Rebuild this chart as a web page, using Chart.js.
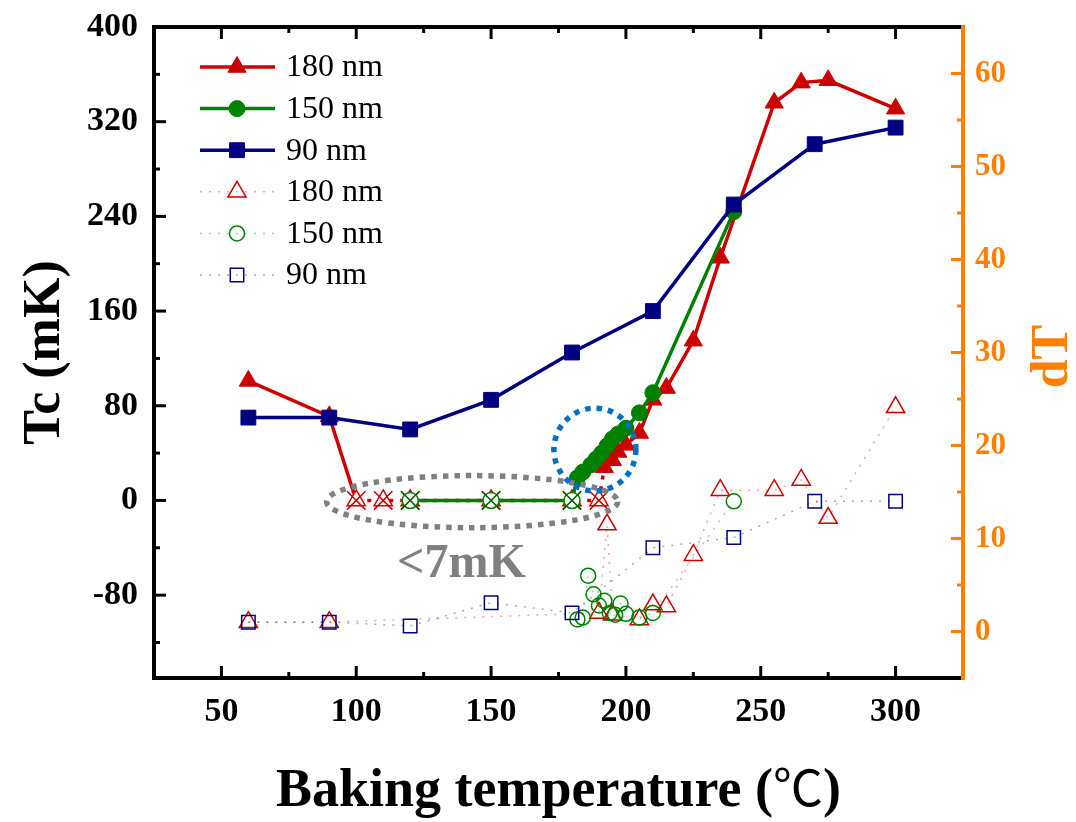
<!DOCTYPE html>
<html>
<head>
<meta charset="utf-8">
<script src="https://cdn.jsdelivr.net/npm/chart.js@4.4.1/dist/chart.umd.min.js"></script>
<style>
    html, body { margin: 0; padding: 0; background: #fff; }
    #wrap { width: 1076px; height: 822px; position: relative; }
</style>
</head>
<body>
<div id="wrap"><canvas id="grafica"></canvas></div>
<script>
// Tc (mK), simbolos llenos -> eje izquierdo
const x180 = [60, 90, 100, 110, 120, 150, 180, 190, 192, 195, 197, 200, 205, 210, 215, 225, 235, 255, 265, 275, 300];
const tc180 = [101, 71, 0, 0, 0, 0, 0, 0, 28, 34, 41, 47, 57, 85, 95, 135, 205, 336, 353, 355, 331];
const x150 = [120, 150, 180, 182, 184, 187, 189, 191, 193, 195, 197, 200, 205, 210, 240];
const tc150 = [0, 0, 0, 19, 24, 30, 35, 40, 46, 52, 56, 61, 74, 91, 244];
const x90 = [60, 90, 120, 150, 180, 210, 240, 270, 300];
const tc90 = [70, 70, 60, 85, 125, 160, 250, 301, 315];

// dT, simbolos huecos -> eje derecho
const xd180 = [60, 90, 190, 193, 195, 205, 210, 215, 225, 235, 255, 265, 275, 300];
const dT180 = [1, 1, 2, 11.5, 1.8, 1.3, 2.9, 2.7, 8.2, 15.2, 15.2, 16.3, 12.2, 24.1];
const xd150 = [182, 184, 186, 188, 190, 192, 194, 196, 198, 200, 205, 210, 240];
const dT150 = [1.3, 1.5, 6, 4, 2.8, 3.3, 2, 1.8, 3, 1.9, 1.5, 2, 14];
const xd90 = [60, 90, 120, 150, 180, 210, 240, 270, 300];
const dT90 = [1, 1, 0.6, 3.1, 2, 9, 10.1, 14, 14];

// ticks
const xTicks = [50, 100, 150, 200, 250, 300];
const tcTicks = [-80, 0, 80, 160, 240, 320, 400];
const dTTicks = [0, 10, 20, 30, 40, 50, 60];

// anotaciones (en unidades de datos)
const elipseGris = { x: 143, y: -1, rx: 54, ry: 22 };
const circuloAzul = { x: 188.5, y: 43, rx: 15.2, ry: 35 };
const textoMenor = { x: 139, y: -54, texto: '<7mK' };

const ROJO = '#CC0000', VERDE = '#008000', AZUL = '#000080', NARANJA = '#FF8000';
const FUENTE = '"Liberation Serif", "Noto Sans CJK SC", serif';

const pares = (xs, ys) => xs.map((x, i) => ({ x: x, y: ys[i] }));
const enCero = (xs, ys) => pares(xs, ys).filter(p => p.y === 0);

function menores(ticks, min, max) {
    const paso = ticks[1] - ticks[0];
    const out = [];
    for (let v = ticks[0] - paso / 2; v < max; v += paso) {
        if (v > min) out.push(v);
    }
    return out;
}

// marco, ticks hacia dentro y eje derecho naranja
const marco = {
    id: 'marco',
    afterDatasetsDraw(chart) {
        const { ctx, chartArea: a, scales } = chart;
        ctx.save();
        ctx.lineCap = 'square';
        ctx.strokeStyle = '#000';
        ctx.lineWidth = 4;
        ctx.beginPath();
        ctx.moveTo(a.right, a.top);
        ctx.lineTo(a.left, a.top);
        ctx.lineTo(a.left, a.bottom);
        ctx.lineTo(a.right, a.bottom);
        ctx.stroke();

        ctx.lineCap = 'butt';
        ctx.lineWidth = 3;
        const linea = (x1, y1, x2, y2) => { ctx.beginPath(); ctx.moveTo(x1, y1); ctx.lineTo(x2, y2); ctx.stroke(); };
        xTicks.forEach(v => {
            const px = scales.x.getPixelForValue(v);
            linea(px, a.bottom, px, a.bottom - 12);
            linea(px, a.top, px, a.top + 12);
        });
        menores(xTicks, 25, 325).forEach(v => {
            const px = scales.x.getPixelForValue(v);
            linea(px, a.bottom, px, a.bottom - 6);
            linea(px, a.top, px, a.top + 6);
        });
        tcTicks.forEach(v => {
            const py = scales.y.getPixelForValue(v);
            linea(a.left, py, a.left + 12, py);
        });
        menores(tcTicks, -150, 400).forEach(v => {
            const py = scales.y.getPixelForValue(v);
            linea(a.left, py, a.left + 6, py);
        });

        ctx.strokeStyle = NARANJA;
        ctx.lineWidth = 4;
        linea(a.right, a.top - 2, a.right, a.bottom + 2);
        ctx.lineWidth = 3;
        dTTicks.forEach(v => {
            const py = scales.y2.getPixelForValue(v);
            linea(a.right, py, a.right - 12, py);
        });
        menores(dTTicks, -5, 65).forEach(v => {
            const py = scales.y2.getPixelForValue(v);
            linea(a.right, py, a.right - 6, py);
        });
        ctx.restore();
    }
};

// elipse gris, circulo azul y texto <7mK
const anotaciones = {
    id: 'anotaciones',
    afterDatasetsDraw(chart) {
        const { ctx, scales } = chart;
        const sx = scales.x, sy = scales.y;
        const ovalo = (o, color) => {
            const cx = sx.getPixelForValue(o.x), cy = sy.getPixelForValue(o.y);
            const rx = Math.abs(sx.getPixelForValue(o.x + o.rx) - cx);
            const ry = Math.abs(sy.getPixelForValue(o.y + o.ry) - cy);
            ctx.strokeStyle = color;
            ctx.lineWidth = 5.5;
            ctx.setLineDash([5.5, 6]);
            ctx.beginPath();
            ctx.ellipse(cx, cy, rx, ry, 0, 0, Math.PI * 2);
            ctx.stroke();
        };
        ctx.save();
        ovalo(elipseGris, '#808080');
        ovalo(circuloAzul, '#0070C0');
        ctx.setLineDash([]);
        ctx.fillStyle = '#808080';
        ctx.font = 'bold 48px ' + FUENTE;
        ctx.textAlign = 'center';
        ctx.textBaseline = 'middle';
        ctx.fillText(textoMenor.texto, sx.getPixelForValue(textoMenor.x), sy.getPixelForValue(textoMenor.y));
        ctx.restore();
    }
};

// titulos: dT girado como el izquierdo, y el del eje x con el simbolo ℃ fino
const titulos = {
    id: 'titulos',
    afterDraw(chart) {
        const { ctx, chartArea: a } = chart;
        ctx.save();
        ctx.translate(1054, (a.top + a.bottom) / 2 + 4);
        ctx.rotate(-Math.PI / 2);
        ctx.fillStyle = NARANJA;
        ctx.font = 'bold 52px ' + FUENTE;
        ctx.textAlign = 'center';
        ctx.textBaseline = 'middle';
        ctx.fillText('dT', 0, 0);
        ctx.restore();

        const partes = [
            { t: 'Baking temperature (', f: 'bold 54px ' + FUENTE },
            { t: '℃', f: '50px "Noto Sans CJK SC"' },
            { t: ')', f: 'bold 54px ' + FUENTE }
        ];
        ctx.save();
        ctx.fillStyle = '#000';
        ctx.textBaseline = 'alphabetic';
        ctx.textAlign = 'left';
        let total = 0;
        partes.forEach(p => { ctx.font = p.f; p.w = ctx.measureText(p.t).width; total += p.w; });
        let x = (a.left + a.right) / 2 - total / 2;
        partes.forEach(p => { ctx.font = p.f; ctx.fillText(p.t, x, 806); x += p.w; });
        ctx.restore();
    }
};

// leyenda dentro del area, linea + simbolo
const leyenda = {
    id: 'leyenda',
    afterDraw(chart) {
        const ctx = chart.ctx;
        const items = chart.data.datasets.filter(d => !d.sinLeyenda);
        ctx.save();
        items.forEach((d, i) => {
            const y = 67 + i * 41.6;
            ctx.strokeStyle = d.borderColor;
            ctx.lineWidth = d.borderWidth;
            ctx.setLineDash(d.borderDash || []);
            ctx.beginPath();
            ctx.moveTo(200, y);
            ctx.lineTo(275, y);
            ctx.stroke();
            ctx.setLineDash([]);
            ctx.fillStyle = d.rellenoLeyenda;
            ctx.strokeStyle = d.pointBorderColor;
            ctx.lineWidth = d.bordeLeyenda;
            Chart.helpers.drawPoint(ctx, { pointStyle: d.pointStyle, radius: d.pointRadius, borderWidth: d.bordeLeyenda, rotation: 0 }, 237, y);
            ctx.fillStyle = '#000';
            ctx.font = '32px ' + FUENTE;
            ctx.textAlign = 'left';
            ctx.textBaseline = 'middle';
            ctx.fillText(d.label, 286, y + 1);
        });
        ctx.restore();
    }
};

const palido = c => c === ROJO ? 'rgba(204,0,0,0.35)' : c === VERDE ? 'rgba(0,128,0,0.35)' : 'rgba(0,0,128,0.35)';

function lleno(label, xs, ys, color, estilo, radio, orden, punteado) {
    return {
        label: label, data: pares(xs, ys), yAxisID: 'y',
        borderColor: color, borderWidth: 3.5,
        pointStyle: estilo, pointRadius: radio,
        pointBackgroundColor: c => (c.raw && c.raw.y === 0) ? '#fff' : color,
        pointBorderColor: color,
        pointBorderWidth: c => (c.raw && c.raw.y === 0) ? 1.5 : 1,
        rellenoLeyenda: color, bordeLeyenda: 1,
        segment: punteado ? { borderDash: c => c.p0.parsed.y === 0 ? [4, 7] : undefined } : {},
        order: orden
    };
}

function cruz(xs, ys, color, orden) {
    return {
        label: '', data: enCero(xs, ys), yAxisID: 'y', showLine: false,
        pointStyle: 'crossRot', pointRadius: 13, pointBorderColor: color, pointBorderWidth: 1.5,
        pointBackgroundColor: 'rgba(0,0,0,0)', sinLeyenda: true, order: orden
    };
}

function hueco(label, xs, ys, color, estilo, radio, orden) {
    return {
        label: label, data: pares(xs, ys), yAxisID: 'y2',
        borderColor: palido(color), borderWidth: 1.5, borderDash: [2, 7],
        pointStyle: estilo, pointRadius: radio,
        pointBackgroundColor: 'rgba(0,0,0,0)', pointBorderColor: color, pointBorderWidth: 1.5,
        rellenoLeyenda: 'rgba(0,0,0,0)', bordeLeyenda: 1.5,
        order: orden
    };
}

const datasets = [
    lleno('180 nm', x180, tc180, ROJO, 'triangle', 10.5, 60, true),
    cruz(x180, tc180, ROJO, 55),
    lleno('150 nm', x150, tc150, VERDE, 'circle', 8, 50, false),
    cruz(x150, tc150, '#006000', 45),
    lleno('90 nm', x90, tc90, AZUL, 'rect', 10.5, 40, false),
    hueco('180 nm', xd180, dT180, ROJO, 'triangle', 10.5, 30),
    hueco('150 nm', xd150, dT150, VERDE, 'circle', 7.5, 20),
    hueco('90 nm', xd90, dT90, AZUL, 'rect', 9.5, 10)
];

const fuenteTicks = { family: FUENTE, size: 34, weight: 'bold' };
const sinRelleno = s => { s.paddingTop = 0; s.paddingBottom = 0; s.paddingLeft = 0; s.paddingRight = 0; };

new Chart(document.getElementById('grafica'), {
    type: 'line',
    data: { datasets: datasets },
    options: {
        responsive: true,
        maintainAspectRatio: false,
        animation: false,
        layout: { padding: { top: 27, left: 0, right: 0, bottom: 0 } },
        plugins: { legend: { display: false }, tooltip: { enabled: false } },
        scales: {
            x: {
                type: 'linear', position: 'bottom', min: 25, max: 325,
                afterBuildTicks: s => { s.ticks = xTicks.map(v => ({ value: v })); },
                afterFit: s => { s.height = 144; sinRelleno(s); },
                grid: { display: false, drawTicks: false },
                border: { display: false },
                ticks: { font: fuenteTicks, color: '#000', padding: 14, maxRotation: 0 },
                title: { display: false }
            },
            y: {
                type: 'linear', position: 'left', min: -150, max: 400,
                afterBuildTicks: s => { s.ticks = tcTicks.map(v => ({ value: v })); },
                afterFit: s => { s.width = 154; sinRelleno(s); },
                grid: { display: false, drawTicks: false },
                border: { display: false },
                ticks: { font: fuenteTicks, color: '#000', padding: 16 },
                title: {
                    display: true, text: 'Tc (mK)', color: '#000',
                    font: { family: FUENTE, size: 52, weight: 'bold' }, padding: { top: 14, bottom: 0 }
                }
            },
            y2: {
                type: 'linear', position: 'right', min: -5, max: 65,
                afterBuildTicks: s => { s.ticks = dTTicks.map(v => ({ value: v })); },
                afterFit: s => { s.width = 113; sinRelleno(s); },
                grid: { display: false, drawTicks: false },
                border: { display: false },
                ticks: { font: { family: FUENTE, size: 31, weight: 'bold' }, color: NARANJA, padding: 12 },
                title: { display: false }
            }
        }
    },
    plugins: [anotaciones, marco, leyenda, titulos]
});
</script>
</body>
</html>
